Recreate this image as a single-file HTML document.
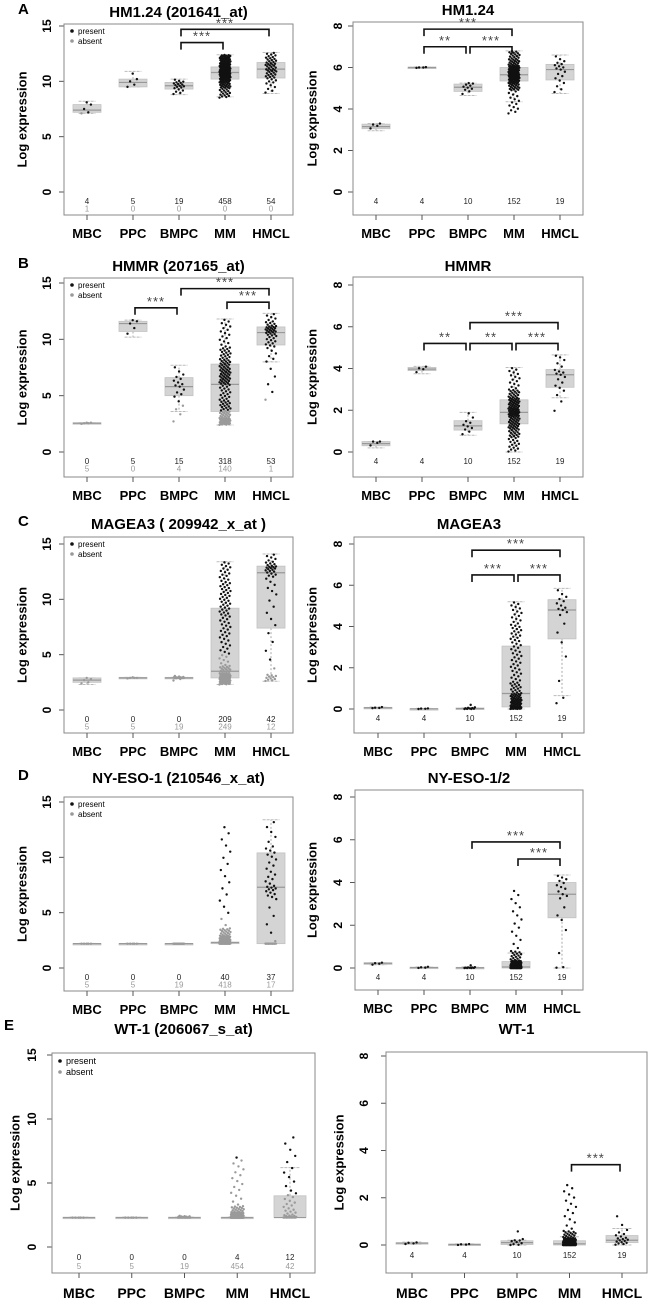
<!DOCTYPE html>
<html><head><meta charset="utf-8">
<style>
html,body{margin:0;padding:0;background:#fff;}
svg{display:block;font-family:"Liberation Sans",Arial,sans-serif;}
</style></head>
<body>
<svg id="fig" width="650" height="1298" viewBox="0 0 650 1298" xmlns="http://www.w3.org/2000/svg"></svg>
<script>
const categories=['MBC','PPC','BMPC','MM','HMCL'];

// ---- Panel A ----
const statsA1=[[7.1,7.2,7.4,7.9,8.2],[9.5,9.5,9.9,10.2,10.9],[8.8,9.3,9.6,9.9,10.2],[8.6,10.2,10.8,11.3,12.4],[8.9,10.3,11.1,11.7,12.6]];
const cloudA1=[[5.8,7.1,7.2,7.2,7.3,7.5,7.8,7.9,8.0,8.1,8.2],[9.5,9.5,9.6,9.7,9.9,10.0,10.1,10.2,10.4,10.7,10.9],[8.8,9.0,9.2,9.4,9.5,9.6,9.7,9.8,9.9,10.0,10.2],[8.5,9.4,9.9,10.3,10.6,10.8,11.0,11.3,11.6,12.0,12.4],[8.9,9.8,10.3,10.6,10.9,11.1,11.4,11.6,11.9,12.2,12.6]];
const presentA1=[4,5,19,458,54];
const absentA1=[1,0,0,0,0];
const bracketsA1=[[2,3,13.5,'***'],[2,4,14.7,'***']];

const statsA2=[[2.95,3.05,3.15,3.27,3.3],[5.98,5.98,6.0,6.02,6.02],[4.65,4.85,5.05,5.2,5.25],[4.35,5.35,5.65,6.0,6.8],[4.75,5.4,5.9,6.15,6.6]];
const cloudA2=[[2.95,3.05,3.1,3.15,3.2,3.2,3.25,3.25,3.3,3.3,3.3],[5.98,5.98,5.99,6.0,6.0,6.0,6.0,6.01,6.01,6.02,6.02],[4.65,4.8,4.9,4.95,5.0,5.05,5.1,5.15,5.2,5.25,5.25],[3.75,4.9,5.2,5.4,5.55,5.65,5.8,5.95,6.1,6.4,6.8],[4.75,5.0,5.3,5.5,5.7,5.9,6.0,6.1,6.2,6.35,6.6]];
const countsA2=[4,4,10,152,19];
const bracketsA2=[[1,2,7.0,'**'],[2,3,7.0,'***'],[1,3,7.85,'***']];

// ---- Panel B ----
const statsB1=[[2.5,2.5,2.55,2.6,2.6],[10.2,10.7,11.4,11.6,11.7],[3.6,5.0,5.8,6.6,7.7],[2.4,3.6,6.0,7.8,11.8],[8.0,9.5,10.6,11.1,12.3]];
const cloudB1=[[2.5,2.5,2.5,2.55,2.55,2.55,2.55,2.6,2.6,2.6,3.4],[10.2,10.5,10.7,11.0,11.3,11.4,11.5,11.6,11.6,11.7,11.7],[2.4,3.6,4.2,5.0,5.3,5.8,6.0,6.3,6.6,7.0,7.7],[2.4,2.7,3.0,3.6,4.6,6.0,6.7,7.4,8.2,9.3,11.8],[4.3,8.0,9.3,9.8,10.3,10.6,10.8,11.0,11.2,11.6,12.3]];
const presentB1=[0,5,15,318,53];
const absentB1=[5,0,4,140,1];
const bracketsB1=[[1,2,12.8,'***'],[2,4,14.5,'***'],[3,4,13.3,'***']];

const statsB2=[[0.2,0.3,0.4,0.5,0.5],[3.75,3.9,3.97,4.05,4.1],[0.8,1.05,1.25,1.5,1.9],[0,1.35,1.9,2.5,4.05],[2.6,3.1,3.7,3.95,4.65]];
const cloudB2=[[0.2,0.3,0.35,0.4,0.45,0.45,0.5,0.5,0.5,0.5,0.5],[3.75,3.8,3.9,3.95,3.97,4.0,4.0,4.05,4.05,4.1,4.1],[0.8,0.9,1.05,1.1,1.2,1.25,1.35,1.45,1.5,1.8,1.9],[0,0.7,1.1,1.4,1.7,1.9,2.1,2.35,2.6,3.0,4.05],[1.75,2.6,3.0,3.2,3.5,3.7,3.8,3.9,4.2,4.5,4.65]];
const countsB2=[4,4,10,152,19];
const bracketsB2=[[1,2,5.2,'**'],[2,3,5.2,'**'],[3,4,5.2,'***'],[2,4,6.2,'***']];

// ---- Panel C ----
const statsC1=[[2.3,2.5,2.7,2.9,2.9],[2.9,2.9,2.9,2.95,2.95],[2.9,2.9,2.9,2.95,2.95],[2.3,2.9,3.5,9.2,13.4],[2.6,7.4,12.4,13.0,14.1]];
const cloudC1=[[2.3,2.4,2.5,2.5,2.6,2.7,2.7,2.8,2.9,2.9,2.9],[2.85,2.85,2.9,2.9,2.9,2.9,2.9,2.9,2.95,2.95,2.95],[2.6,2.85,2.9,2.9,2.9,2.9,2.9,2.95,2.95,3.0,3.1],[2.3,2.6,2.8,3.0,3.3,4.0,6.5,8.5,10.0,11.5,13.4],[2.6,2.9,3.2,7.5,10.5,12.0,12.5,12.8,13.0,13.4,14.1]];
const presentC1=[0,0,0,209,42];
const absentC1=[5,5,19,249,12];
const bracketsC1=[];

const statsC2=[[0.03,0.05,0.06,0.08,0.1],[0,0,0.01,0.02,0.03],[0,0,0.02,0.05,0.06],[0,0.1,0.75,3.05,5.2],[0.65,3.4,4.8,5.3,5.85]];
const cloudC2=[[0.03,0.04,0.05,0.05,0.05,0.06,0.06,0.07,0.08,0.1,0.12],[0,0,0,0.01,0.01,0.01,0.02,0.02,0.02,0.03,0.03],[0,0,0,0.01,0.02,0.03,0.04,0.05,0.06,0.1,0.3],[0,0.05,0.1,0.3,0.5,0.75,1.3,2.3,3.3,4.1,5.2],[0.15,0.65,2.9,3.8,4.6,4.8,4.9,5.1,5.3,5.5,5.85]];
const countsC2=[4,4,10,152,19];
const bracketsC2=[[2,3,6.5,'***'],[3,4,6.5,'***'],[2,4,7.7,'***']];

// ---- Panel D ----
const statsD1=[[2.2,2.2,2.2,2.22,2.22],[2.2,2.2,2.2,2.22,2.22],[2.2,2.2,2.2,2.22,2.22],[2.2,2.2,2.3,2.35,2.35],[2.2,2.2,7.3,10.4,13.4]];
const cloudD1=[[2.2,2.2,2.2,2.2,2.2,2.2,2.2,2.2,2.2,2.2,2.2],[2.2,2.2,2.2,2.2,2.2,2.2,2.2,2.2,2.2,2.2,2.2],[2.2,2.2,2.2,2.2,2.2,2.2,2.2,2.2,2.2,2.2,2.2],[2.2,2.2,2.22,2.25,2.3,2.35,2.45,2.6,2.9,3.6,13.0],[2.2,2.2,2.2,2.2,6.3,7.0,7.4,8.5,10.0,11.0,13.4]];
const presentD1=[0,0,0,40,37];
const absentD1=[5,5,19,418,17];
const bracketsD1=[];

const statsD2=[[0.15,0.17,0.22,0.25,0.25],[0,0,0.02,0.04,0.05],[0,0,0.01,0.03,0.05],[0,0,0.05,0.3,0.7],[0,2.35,3.45,4.0,4.35]];
const cloudD2=[[0.15,0.15,0.17,0.2,0.2,0.22,0.22,0.24,0.25,0.25,0.25],[0,0,0.01,0.01,0.02,0.02,0.03,0.04,0.05,0.06,0.08],[0,0,0,0,0.01,0.01,0.02,0.02,0.03,0.05,0.2],[0,0,0,0.02,0.05,0.08,0.12,0.2,0.35,0.8,3.7],[0,0.05,2.1,2.5,3.3,3.45,3.7,3.85,4.05,4.2,4.35]];
const countsD2=[4,4,10,152,19];
const bracketsD2=[[2,4,5.9,'***'],[3,4,5.1,'***']];

// ---- Panel E ----
const statsE1=[[2.3,2.3,2.3,2.33,2.33],[2.3,2.3,2.3,2.33,2.33],[2.3,2.3,2.3,2.33,2.33],[2.3,2.3,2.3,2.33,2.33],[2.3,2.3,2.3,4.0,6.2]];
const cloudE1=[[2.3,2.3,2.3,2.3,2.3,2.3,2.3,2.3,2.3,2.3,2.3],[2.3,2.3,2.3,2.3,2.3,2.3,2.3,2.3,2.3,2.3,2.3],[2.3,2.3,2.3,2.3,2.3,2.3,2.32,2.35,2.38,2.4,2.45],[2.3,2.3,2.3,2.3,2.3,2.35,2.4,2.5,2.7,3.2,7.1],[2.3,2.3,2.3,2.3,2.35,2.5,2.9,3.5,4.3,6.2,8.8]];
const presentE1=[0,0,0,4,12];
const absentE1=[5,5,19,454,42];
const bracketsE1=[];

const statsE2=[[0.03,0.05,0.08,0.1,0.12],[0,0.01,0.02,0.04,0.05],[0,0.02,0.1,0.18,0.2],[0,0,0.05,0.18,0.35],[0,0.1,0.2,0.4,0.7]];
const cloudE2=[[0.03,0.04,0.05,0.06,0.07,0.08,0.09,0.1,0.1,0.11,0.12],[0,0,0.01,0.01,0.02,0.02,0.03,0.03,0.04,0.04,0.05],[0,0,0.02,0.05,0.1,0.15,0.18,0.2,0.2,0.3,0.85],[0,0,0,0.02,0.05,0.08,0.12,0.18,0.3,0.6,2.6],[0,0.05,0.1,0.15,0.2,0.25,0.3,0.4,0.5,0.7,1.4]];
const countsE2=[4,4,10,152,19];
const bracketsE2=[[3,4,3.4,'***']];

const zeros=[0,0,0,0,0];
const panels=[
 {id:'a-left',letter:'A',title:'HM1.24 (201641_at)',box:[64,24,293,215],vTop:15,pTop:26,p0:192,ticks:[0,5,10,15],cx0:87,dx:46,ylab:22,tl:47,leg:true,two:true,stats:statsA1,cloud:cloudA1,pres:presentA1,abs:absentA1,br:bracketsA1,ty:17},
 {id:'a-right',title:'HM1.24',box:[353,22,583,215],vTop:8,pTop:26,p0:192,ticks:[0,2,4,6,8],cx0:376,dx:46,ylab:312,tl:338,stats:statsA2,cloud:cloudA2,pres:countsA2,abs:zeros,br:bracketsA2,ty:15},
 {id:'b-left',letter:'B',title:'HMMR (207165_at)',box:[64,278,293,477],vTop:15,pTop:283,p0:452,ticks:[0,5,10,15],cx0:87,dx:46,ylab:22,tl:47,leg:true,two:true,stats:statsB1,cloud:cloudB1,pres:presentB1,abs:absentB1,br:bracketsB1,ty:271},
 {id:'b-right',title:'HMMR',box:[353,277,583,477],vTop:8,pTop:285,p0:452,ticks:[0,2,4,6,8],cx0:376,dx:46,ylab:312,tl:338,stats:statsB2,cloud:cloudB2,pres:countsB2,abs:zeros,br:bracketsB2,ty:271},
 {id:'c-left',letter:'C',title:'MAGEA3 ( 209942_x_at )',box:[64,537,293,733],vTop:15,pTop:544,p0:710,ticks:[0,5,10,15],cx0:87,dx:46,ylab:22,tl:47,leg:true,two:true,stats:statsC1,cloud:cloudC1,pres:presentC1,abs:absentC1,br:bracketsC1,ty:529},
 {id:'c-right',title:'MAGEA3',box:[354,537,584,733],vTop:8,pTop:544,p0:709,ticks:[0,2,4,6,8],cx0:378,dx:46,ylab:312,tl:338,stats:statsC2,cloud:cloudC2,pres:countsC2,abs:zeros,br:bracketsC2,ty:529},
 {id:'d-left',letter:'D',title:'NY-ESO-1 (210546_x_at)',box:[64,797,293,991],vTop:15,pTop:802,p0:968,ticks:[0,5,10,15],cx0:87,dx:46,ylab:22,tl:47,leg:true,two:true,stats:statsD1,cloud:cloudD1,pres:presentD1,abs:absentD1,br:bracketsD1,ty:783},
 {id:'d-right',title:'NY-ESO-1/2',box:[355,790,583,990],vTop:8,pTop:797,p0:968,ticks:[0,2,4,6,8],cx0:378,dx:46,ylab:312,tl:338,stats:statsD2,cloud:cloudD2,pres:countsD2,abs:zeros,br:bracketsD2,ty:783},
 {id:'e-left',letter:'E',title:'WT-1 (206067_s_at)',box:[52,1053,315,1273],vTop:15,pTop:1055,p0:1247,ticks:[0,5,10,15],cx0:79,dx:52.75,ylab:15,tl:32,leg:true,two:true,big:true,stats:statsE1,cloud:cloudE1,pres:presentE1,abs:absentE1,br:bracketsE1,ty:1034},
 {id:'e-right',title:'WT-1',box:[386,1052,647,1273],vTop:8,pTop:1056,p0:1245,ticks:[0,2,4,6,8],cx0:412,dx:52.5,ylab:339,tl:364,big:true,stats:statsE2,cloud:cloudE2,pres:countsE2,abs:zeros,br:bracketsE2,ty:1034}
];

const NS='http://www.w3.org/2000/svg';
const svg=document.getElementById('fig');
function mk(tag,attrs,parent,txt){const e=document.createElementNS(NS,tag);for(const k in attrs)e.setAttribute(k,attrs[k]);if(txt!==undefined)e.textContent=txt;parent.appendChild(e);return e;}
function quant(kn,u){const p=u*10;const i=Math.min(9,Math.floor(p));const f=p-i;return kn[i]+(kn[i+1]-kn[i])*f;}

panels.forEach(P=>{
  const g=mk('g',{},svg);
  
  
  const [x0,y0,x1,y1]=P.box;
  const yS=v=>P.p0-(v/P.vTop)*(P.p0-P.pTop);
  const xS=i=>P.cx0+i*P.dx;
  const bw=P.big?16:14, jw=P.big?6.5:5.5;
  if(P.letter){const l=mk('text',{x:P.big?4:18,y:P.big?1030:P.ty-3,'font-size':15,'font-weight':'bold'},g,P.letter);
    }
  const t=mk('text',{x:(x0+x1)/2,y:P.ty,'font-size':15,'font-weight':'bold','text-anchor':'middle'},g,P.title);
  
  const yl=mk('text',{x:P.ylab,y:(y0+y1)/2,'font-size':13,'font-weight':'bold','text-anchor':'middle',transform:`rotate(-90 ${P.ylab} ${(y0+y1)/2})`,dy:'0.35em'},g,'Log expression');
  
  P.ticks.forEach(v=>{const py=yS(v);
    mk('line',{x1:x0-5,x2:x0,y1:py,y2:py,stroke:'#555','stroke-width':1},g);
    const tt=mk('text',{x:P.tl,y:py,'font-size':12,'font-weight':'bold','text-anchor':'middle',transform:`rotate(-90 ${P.tl} ${py})`,dy:'0.35em'},g,String(v));
    });
  const fr=mk('rect',{x:x0,y:y0,width:x1-x0,height:y1-y0,fill:'none',stroke:'#888','stroke-width':1},g);
  
  categories.forEach((c,i)=>{
    const cx=xS(i);const s=P.stats[i];
    mk('line',{x1:cx,x2:cx,y1:y1,y2:y1+5,stroke:'#555','stroke-width':1},g);
    const cl=mk('text',{x:cx,y:y1+(P.big?25:23),'font-size':P.big?14:13,'font-weight':'bold','text-anchor':'middle'},g,c);
    
    mk('line',{x1:cx,x2:cx,y1:yS(s[3]),y2:yS(s[4]),stroke:'#aaa','stroke-width':1,'stroke-dasharray':'2,2'},g);
    mk('line',{x1:cx,x2:cx,y1:yS(s[1]),y2:yS(s[0]),stroke:'#aaa','stroke-width':1,'stroke-dasharray':'2,2'},g);
    mk('line',{x1:cx-bw*0.6,x2:cx+bw*0.6,y1:yS(s[4]),y2:yS(s[4]),stroke:'#bbb','stroke-width':1,'stroke-dasharray':'3,1'},g);
    mk('line',{x1:cx-bw*0.6,x2:cx+bw*0.6,y1:yS(s[0]),y2:yS(s[0]),stroke:'#bbb','stroke-width':1,'stroke-dasharray':'3,1'},g);
    const bx=mk('rect',{x:cx-bw,y:yS(s[3]),width:bw*2,height:Math.max(1.5,yS(s[1])-yS(s[3])),fill:'#d4d4d4',stroke:'#c2c2c2','stroke-width':0.8},g);
    
    mk('line',{x1:cx-bw,x2:cx+bw,y1:yS(s[2]),y2:yS(s[2]),stroke:'#999','stroke-width':1.2},g);
    const n=P.pres[i]+P.abs[i];const m=Math.min(n,170);const af=n?P.abs[i]/n:0;
    const pg=mk('g',{},g);
    
    for(let k=0;k<m;k++){const u=(k+0.5)/m;const v=quant(P.cloud[i],u);
      const jx=(((k*0.618034)%1)-0.5)*2*jw;
      mk('circle',{cx:cx+jx,cy:yS(v),r:1.2,fill:u<af?'#9a9a9a':'#111'},pg);}
    const cy=P.p0+(P.big?13:12);
    const ct=mk('text',{x:cx,y:cy,'font-size':8,'text-anchor':'middle',fill:'#222'},g,String(P.pres[i]));
    
    if(P.two){const ca=mk('text',{x:cx,y:cy+(P.big?9:7.5),'font-size':8,'text-anchor':'middle',fill:'#999'},g,String(P.abs[i]));
      }
  });
  P.br.forEach(b=>{const xa=xS(b[0])+2,xb=xS(b[1])-2,py=yS(b[2]);
    const bg=mk('g',{},g);
    
    mk('path',{d:`M${xa} ${py+7}V${py}H${xb}V${py+7}`,fill:'none',stroke:'#111','stroke-width':1.6},bg);
    mk('text',{x:(xa+xb)/2,y:py-2,'font-size':13,'text-anchor':'middle',fill:'#444','letter-spacing':'1'},bg,b[3]);});
  if(P.leg){const lx=x0+8,ly=y0+(P.big?8:7);
    const lg=mk('g',{},g);
    
    mk('circle',{cx:lx,cy:ly,r:1.8,fill:'#111'},lg);
    mk('text',{x:lx+6,y:ly+3,'font-size':P.big?9:8},lg,'present');
    mk('circle',{cx:lx,cy:ly+(P.big?11:10),r:1.8,fill:'#999'},lg);
    mk('text',{x:lx+6,y:ly+(P.big?14:13),'font-size':P.big?9:8},lg,'absent');}
});
</script>
</body></html>
